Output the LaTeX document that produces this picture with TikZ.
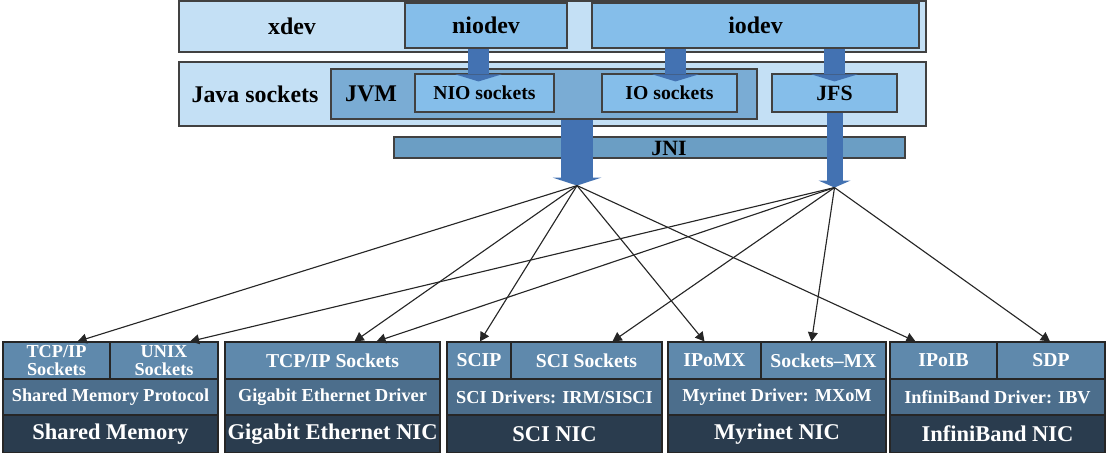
\documentclass[tikz,border=0pt]{standalone}
\usepackage{fontspec}
\setmainfont{Liberation Serif}
\usepackage{tikz}
\usetikzlibrary{positioning,fit,calc,arrows.meta}

\definecolor{xlight}{RGB}{196,224,245}
\definecolor{xmid}{RGB}{133,190,234}
\definecolor{xjvm}{RGB}{122,172,212}
\definecolor{xjni}{RGB}{107,158,196}
\definecolor{xarrow}{RGB}{67,114,178}
\definecolor{xedge}{RGB}{65,65,65}
\definecolor{rowa}{RGB}{95,137,172}
\definecolor{rowb}{RGB}{76,110,140}
\definecolor{rowc}{RGB}{42,60,78}

\tikzset{
  box/.style={draw=xedge, line width=0.8pt, inner sep=0pt},
  lightbox/.style={box, fill=xlight},
  midbox/.style={box, fill=xmid},
  jvmbox/.style={box, fill=xjvm},
  jnibox/.style={box, fill=xjni},
  bigtxt/.style={inner sep=0pt, font=\fontsize{17}{20}\selectfont\bfseries},
  smalltxt/.style={inner sep=0pt, font=\fontsize{14}{16}\selectfont\bfseries},
  medtxt/.style={inner sep=0pt, font=\fontsize{15.5}{18}\selectfont\bfseries},
  bigin/.style={label={[bigtxt]center:{#1}}},
  smallin/.style={label={[smalltxt]center:{#1}}},
  medin/.style={label={[medtxt]center:{#1}}},
  nicbox/.style={draw=black!85, line width=0.8pt, inner sep=0pt},
  nictxt/.style={inner sep=0pt, text=white, align=center},
  rowone/.style={nicbox, fill=rowa,
    label={[nictxt, font=\fontsize{14}{16}\selectfont\bfseries]center:{#1}}},
  twoline/.style={nicbox, fill=rowa,
    label={[nictxt, font=\fontsize{13}{13}\selectfont\bfseries]center:{#1}}},
  rowtwo/.style={nicbox, fill=rowb,
    label={[nictxt, font=\fontsize{13}{15}\selectfont\bfseries]center:{#1}}},
  rowthree/.style={nicbox, fill=rowc,
    label={[nictxt, font=\fontsize{16}{18}\selectfont\bfseries]center:{#1}}},
  blockarr/.style n args={3}{draw=xarrow, line width=#1,
    -{Triangle[width=#2,length=#3,line width=0pt]}},
  thinarr/.style={->, draw=black!85, line width=0.8pt}
}

\begin{document}
\begin{tikzpicture}[x=0.025cm,y=-0.025cm,>={Triangle[length=6.5pt,width=7pt]}]
  \useasboundingbox (0,0) rectangle (1111,453);
  % xdev layer
  \node[lightbox, fit={(179,1) (926,52)}] (xdev) {};
  \node[bigtxt] (xdevtxt) at (292,26) {xdev};
  \node[midbox, fit={(405,3) (567,48)}, bigin=niodev] (niodev) {};
  \node[midbox, fit={(592,3) (919,48)}, bigin=iodev] (iodev) {};
  % Java sockets layer
  \node[lightbox, fit={(179,62) (926,126)}] (java) {};
  \node[bigtxt] (javatxt) at (255,94) {Java sockets};
  \node[jvmbox, fit={(331,69) (757,119)}] (jvm) {};
  \node[bigtxt] (jvmtxt) at (371,94) {JVM};
  \node[midbox, fit={(415,74) (554,112)}, smallin={NIO sockets}] (nio) {};
  \node[midbox, fit={(602,74) (737,112)}, smallin={IO sockets}] (io) {};
  \node[midbox, fit={(772,74) (897,112)}, medin=JFS] (jfs) {};
  \node[jnibox, fit={(394,137) (905,158)}] (jni) {};
  \node[medtxt] (jnitxt) at (669,148) {JNI};

  % block arrows
  \coordinate (niotip) at ($(nio.north)+(-6,8)$);
  \coordinate (iotip) at ($(io.north)+(6,8)$);
  \coordinate (jfsin) at ($(jfs.north)+(0,8)$);
  \coordinate (jvmtip) at ($(jni.south)+(-72.5,27)$);
  \coordinate (jfstip) at ($(jfs.south)+(0,75)$);
  \draw[blockarr={0.525cm}{1.15cm}{0.175cm}] (niodev.south -| niotip) -- (niotip);
  \draw[blockarr={0.525cm}{1.15cm}{0.175cm}] (iodev.south -| iotip) -- (iotip);
  \draw[blockarr={0.525cm}{1.15cm}{0.175cm}] (iodev.south -| jfsin) -- (jfsin);
  \draw[blockarr={0.8cm}{1.225cm}{0.2cm}] (jvm.south -| jvmtip) -- (jvmtip);
  \draw[blockarr={0.4cm}{0.8cm}{0.175cm}] (jfs.south -| jfstip) -- (jfstip);

  % Shared Memory
  \node[twoline={TCP/IP\\Sockets}, fit={(3,342) (110,379)}] (smtcp) {};
  \node[twoline={UNIX\\Sockets}, fit={(110,342) (218,379)}] (smunix) {};
  \node[rowtwo={Shared Memory Protocol}, fit={(3,379) (218,415)}] (smdrv) {};
  \node[rowthree={Shared Memory}, fit={(3,415) (218,452.5)}] (smnic) {};
  % Gigabit Ethernet
  \node[rowone={TCP/IP Sockets}, fit={(225,342) (440,379)}] (getcp) {};
  \node[rowtwo={Gigabit Ethernet Driver}, fit={(225,379) (440,415)}] (gedrv) {};
  \node[rowthree={Gigabit Ethernet NIC}, fit={(225,415) (440,452.5)}] (genic) {};
  % SCI
  \node[rowone=SCIP, fit={(447,342) (511,379)}] (scip) {};
  \node[rowone={SCI Sockets}, fit={(511,342) (662,379)}] (scisock) {};
  \node[rowtwo={SCI Drivers: IRM/SISCI}, fit={(447,379) (662,415)}] (scidrv) {};
  \node[rowthree={SCI NIC}, fit={(447,415) (662,452.5)}] (scinic) {};
  % Myrinet
  \node[rowone=IPoMX, fit={(668,342) (761,379)}] (ipomx) {};
  \node[rowone={Sockets--MX}, fit={(761,342) (886,379)}] (sockmx) {};
  \node[rowtwo={Myrinet Driver: MXoM}, fit={(668,379) (886,415)}] (mxdrv) {};
  \node[rowthree={Myrinet NIC}, fit={(668,415) (886,452.5)}] (mxnic) {};
  % InfiniBand
  \node[rowone=IPoIB, fit={(890,342) (997,379)}] (ipoib) {};
  \node[rowone=SDP, fit={(997,342) (1105,379)}] (sdp) {};
  \node[rowtwo={InfiniBand Driver: IBV}, fit={(890,379) (1105,415)}] (ibdrv) {};
  \node[rowthree={InfiniBand NIC}, fit={(890,415) (1105,452.5)}] (ibnic) {};

  % links from the JVM
  \draw[thinarr] (jvmtip) -- ($(smtcp.north)+(21,0)$);
  \draw[thinarr] (jvmtip) -- ($(getcp.north)+(22,0)$);
  \draw[thinarr] (jvmtip) -- ($(scip.north)+(1,0)$);
  \draw[thinarr] (jvmtip) -- ($(ipomx.north)+(-10,0)$);
  \draw[thinarr] (jvmtip) -- ($(ipoib.north)+(-28,0)$);
  % links from JFS
  \draw[thinarr] (jfstip) -- ($(smunix.north)+(26,0)$);
  \draw[thinarr] (jfstip) -- ($(getcp.north)+(44,0)$);
  \draw[thinarr] (jfstip) -- ($(scisock.north)+(26,0)$);
  \draw[thinarr] (jfstip) -- ($(sockmx.north)+(-12,0)$);
  \draw[thinarr] (jfstip) -- ($(sdp.north)+(-1,0)$);
\end{tikzpicture}
\end{document}
